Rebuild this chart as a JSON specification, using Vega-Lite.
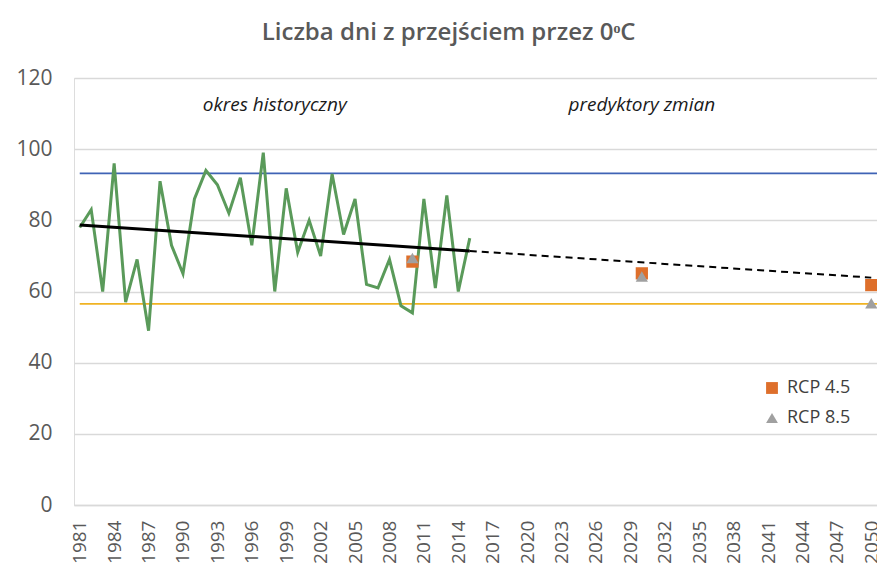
{
  "$schema": "https://vega.github.io/schema/vega-lite/v6.json",
  "autosize": "none",
  "width": 803,
  "height": 427,
  "padding": {"left": 74, "top": 78, "right": 0, "bottom": 60},
  "background": "white",
  "title": {
    "text": "Liczba dni z przejściem przez 0ᵒC",
    "font": "Open Sans",
    "fontSize": 24,
    "fontWeight": 600,
    "color": "#595959",
    "anchor": "middle",
    "frame": "bounds",
    "offset": 22
  },
  "datasets": {
    "hist": [
      {"year": 1981, "value": 78}, {"year": 1982, "value": 83}, {"year": 1983, "value": 60},
      {"year": 1984, "value": 96}, {"year": 1985, "value": 57}, {"year": 1986, "value": 69},
      {"year": 1987, "value": 49}, {"year": 1988, "value": 91}, {"year": 1989, "value": 73},
      {"year": 1990, "value": 65}, {"year": 1991, "value": 86}, {"year": 1992, "value": 94},
      {"year": 1993, "value": 90}, {"year": 1994, "value": 82}, {"year": 1995, "value": 92},
      {"year": 1996, "value": 73}, {"year": 1997, "value": 99}, {"year": 1998, "value": 60},
      {"year": 1999, "value": 89}, {"year": 2000, "value": 71}, {"year": 2001, "value": 80},
      {"year": 2002, "value": 70}, {"year": 2003, "value": 93}, {"year": 2004, "value": 76},
      {"year": 2005, "value": 86}, {"year": 2006, "value": 62}, {"year": 2007, "value": 61},
      {"year": 2008, "value": 69}, {"year": 2009, "value": 56}, {"year": 2010, "value": 54},
      {"year": 2011, "value": 86}, {"year": 2012, "value": 61}, {"year": 2013, "value": 87},
      {"year": 2014, "value": 60}, {"year": 2015, "value": 75}
    ],
    "trendSolid": [{"year": 1981, "value": 78.7}, {"year": 2015, "value": 71.4}],
    "trendDashed": [{"year": 2015, "value": 71.4}, {"year": 2050, "value": 63.9}],
    "refMax": [{"start": 1981, "end": 2050.5, "value": 93.2}],
    "refMin": [{"start": 1981, "end": 2050.5, "value": 56.5}],
    "rcp": [
      {"year": 2010, "value": 68.4, "scenario": "RCP 4.5"},
      {"year": 2030, "value": 65.1, "scenario": "RCP 4.5"},
      {"year": 2050, "value": 61.8, "scenario": "RCP 4.5"},
      {"year": 2010, "value": 69.4, "scenario": "RCP 8.5"},
      {"year": 2030, "value": 64.2, "scenario": "RCP 8.5"},
      {"year": 2050, "value": 56.7, "scenario": "RCP 8.5"}
    ],
    "notes": [
      {"year": 1998, "value": 112.5, "label": "okres historyczny"},
      {"year": 2030, "value": 112.5, "label": "predyktory zmian"}
    ]
  },
  "encoding": {
    "x": {
      "field": "year", "type": "quantitative",
      "scale": {"domain": [1980.5, 2050.5], "nice": false, "zero": false},
      "axis": {
        "title": null,
        "values": [1981,1984,1987,1990,1993,1996,1999,2002,2005,2008,2011,2014,2017,2020,2023,2026,2029,2032,2035,2038,2041,2044,2047,2050],
        "format": "d",
        "labelAngle": -90,
        "labelFontSize": 19,
        "labelFont": "Open Sans",
        "labelColor": "#595959",
        "labelPadding": 15,
        "ticks": false,
        "grid": false,
        "domainColor": "#d9d9d9",
        "domainWidth": 1.3,
        "labelOverlap": false,
        "labelBound": false,
        "labelFlush": false
      }
    },
    "y": {
      "field": "value", "type": "quantitative",
      "scale": {"domain": [0, 120], "nice": false},
      "axis": {
        "title": null,
        "values": [0, 20, 40, 60, 80, 100, 120],
        "labelFontSize": 21,
        "labelFont": "Open Sans",
        "labelColor": "#595959",
        "labelPadding": 22,
        "ticks": false,
        "domain": false,
        "gridColor": "#d9d9d9",
        "gridWidth": 1.3
      }
    }
  },
  "layer": [
    {
      "data": {"name": "refMax"},
      "mark": {"type": "rule", "strokeWidth": 1.6, "color": "#3f63b5"},
      "encoding": {
        "x": {"field": "start", "type": "quantitative"},
        "x2": {"field": "end"},
        "y": {"field": "value", "type": "quantitative"}
      }
    },
    {
      "data": {"name": "refMin"},
      "mark": {"type": "rule", "strokeWidth": 1.8, "color": "#f0b323"},
      "encoding": {
        "x": {"field": "start", "type": "quantitative"},
        "x2": {"field": "end"},
        "y": {"field": "value", "type": "quantitative"}
      }
    },
    {
      "data": {"name": "hist"},
      "mark": {"type": "line", "color": "#5a9a5a", "strokeWidth": 3},
      "encoding": {}
    },
    {
      "data": {"name": "trendSolid"},
      "mark": {"type": "line", "color": "#000000", "strokeWidth": 3},
      "encoding": {}
    },
    {
      "data": {"name": "trendDashed"},
      "mark": {"type": "line", "color": "#000000", "strokeWidth": 2, "strokeDash": [7, 5]},
      "encoding": {}
    },
    {
      "data": {"name": "rcp"},
      "mark": {"type": "point", "filled": true, "opacity": 1, "size": 150},
      "encoding": {
        "shape": {
          "field": "scenario", "type": "nominal",
          "scale": {"domain": ["RCP 4.5", "RCP 8.5"], "range": ["square", "triangle-up"]},
          "legend": null
        },
        "color": {
          "field": "scenario", "type": "nominal",
          "scale": {"domain": ["RCP 4.5", "RCP 8.5"], "range": ["#de6f2b", "#a0a0a0"]},
          "legend": {
            "title": null,
            "orient": "none",
            "legendX": 689,
            "legendY": 301,
            "padding": 0,
            "labelFontSize": 18,
            "labelFont": "Open Sans",
            "labelColor": "#404040",
            "symbolSize": 140,
            "rowPadding": 12,
            "labelOffset": 6
          }
        }
      }
    },
    {
      "data": {"name": "notes"},
      "mark": {"type": "text", "fontStyle": "italic", "fontSize": 19, "font": "Open Sans", "color": "#1a1a1a"},
      "encoding": {"text": {"field": "label"}}
    }
  ]
}
